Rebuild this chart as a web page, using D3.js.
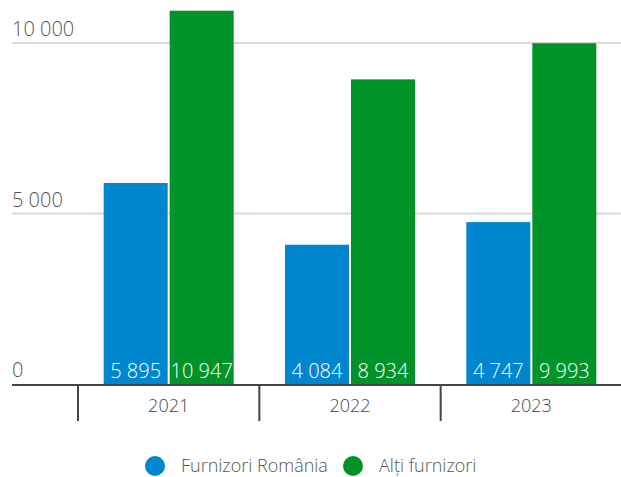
<!DOCTYPE html>
<html>
<head>
<meta charset="utf-8">
<script src="https://cdn.jsdelivr.net/npm/d3@7"></script>
<style>
  body { margin: 0; background: #fff; }
  text { font-family: "Open Sans", sans-serif; }
</style>
</head>
<body>
<div id="chart"></div>
<script>
// data
var years = ['2021', '2022', '2023'];
var seriesNames = ['Furnizori România', 'Alți furnizori'];
var romania = [5895, 4084, 4747];
var altii = [10947, 8934, 9993];
var yTicks = [0, 5000, 10000];
var colors = ['#0085cf', '#00932a'];

var width = 621, height = 477;

var svg = d3.select('#chart').append('svg')
    .attr('width', width)
    .attr('height', height);

var y = d3.scaleLinear()
    .domain([0, 10000])
    .range([384, 43]);

var x = d3.scaleBand()
    .domain(years)
    .range([78, 622]);

var inner = d3.scaleBand()
    .domain([0, 1])
    .range([x.bandwidth() / 2 - 65, x.bandwidth() / 2 + 65])
    .paddingInner(0.03);

var fmt = function(v) { return d3.format(',')(v).replace(/,/g, ' '); };

// gridlines
svg.selectAll('.grid')
    .data(yTicks.slice(1))
  .enter().append('line')
    .attr('x1', 12).attr('x2', width)
    .attr('y1', function(d) { return y(d); })
    .attr('y2', function(d) { return y(d); })
    .attr('stroke', '#d9d9d9')
    .attr('stroke-width', 2);

// y labels
svg.selectAll('.ylab')
    .data(yTicks)
  .enter().append('text')
    .attr('x', 12)
    .attr('y', function(d) { return y(d) - 7; })
    .attr('fill', '#555')
    .style('font-size', '20px')
    .style('font-weight', 300)
    .text(fmt);

// bars
var rows = years.map(function(yr, i) { return [romania[i], altii[i]]; });

var groups = svg.selectAll('.grp')
    .data(rows)
  .enter().append('g')
    .attr('transform', function(d, i) { return 'translate(' + x(years[i]) + ',0)'; });

groups.selectAll('rect')
    .data(function(d) { return d; })
  .enter().append('rect')
    .attr('x', function(d, j) { return inner(j); })
    .attr('width', inner.bandwidth())
    .attr('y', function(d) { return y(d); })
    .attr('height', function(d) { return y(0) - y(d); })
    .attr('fill', function(d, j) { return colors[j]; });

groups.selectAll('.val')
    .data(function(d) { return d; })
  .enter().append('text')
    .attr('x', function(d, j) { return inner(j) + inner.bandwidth() / 2; })
    .attr('y', y(0) - 6)
    .attr('text-anchor', 'middle')
    .attr('fill', '#fff')
    .style('font-size', '20px')
    .style('font-weight', 300)
    .text(fmt);

// axis line
svg.append('line')
    .attr('x1', 12).attr('x2', width)
    .attr('y1', y(0) + 1).attr('y2', y(0) + 1)
    .attr('stroke', '#444')
    .attr('stroke-width', 2);

// category dividers
svg.selectAll('.div')
    .data(years)
  .enter().append('line')
    .attr('x1', function(d) { return x(d); })
    .attr('x2', function(d) { return x(d); })
    .attr('y1', y(0) + 1).attr('y2', 421)
    .attr('stroke', '#444')
    .attr('stroke-width', 2);

svg.selectAll('.xlab')
    .data(years)
  .enter().append('text')
    .attr('x', function(d) { return x(d) + x.bandwidth() / 2; })
    .attr('y', 412)
    .attr('text-anchor', 'middle')
    .attr('fill', '#444')
    .style('font-size', '18px')
    .style('font-weight', 300)
    .text(function(d) { return d; });

// legend
var legX = [155, 353];
var leg = svg.selectAll('.leg')
    .data(seriesNames)
  .enter().append('g')
    .attr('transform', function(d, i) { return 'translate(' + legX[i] + ',466)'; });

leg.append('circle')
    .attr('r', 10)
    .attr('fill', function(d, i) { return colors[i]; });

leg.append('text')
    .attr('x', 26)
    .attr('y', 6)
    .attr('fill', '#555')
    .style('font-size', '18px')
    .style('font-weight', 300)
    .text(function(d) { return d; });
</script>
</body>
</html>
